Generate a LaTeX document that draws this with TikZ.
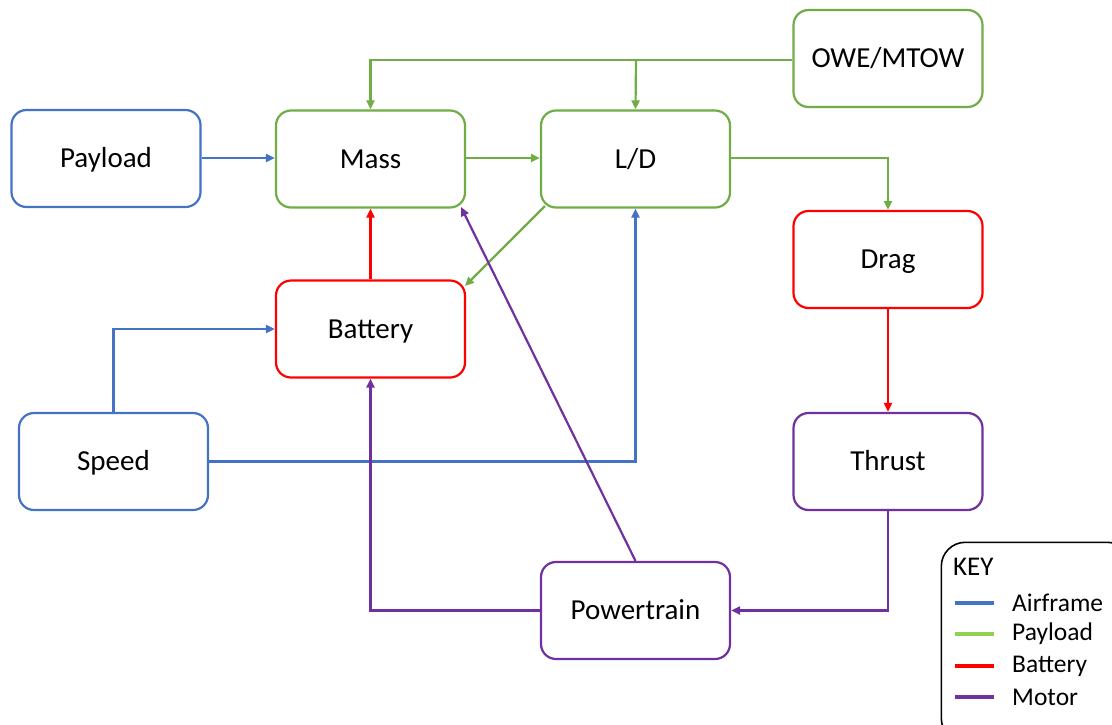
\documentclass[tikz,border=0pt]{standalone}
\usepackage{fontspec}
\setmainfont{Carlito}
\usetikzlibrary{arrows.meta}
\definecolor{cblue}{HTML}{4472C4}
\definecolor{cgreen}{HTML}{70AD47}
\definecolor{lgreen}{HTML}{92D050}
\definecolor{cred}{HTML}{FF0000}
\definecolor{cpurple}{HTML}{7030A0}
\tikzset{
  blk/.style={draw, line width=2.2pt, rounded corners=15pt, minimum width=189pt, minimum height=97pt, inner sep=0pt, font=\fontsize{29}{34}\selectfont, text height=18.6pt, text depth=0pt, fill=white},
  con/.style={line width=2.2pt, -{Triangle[length=9pt,width=8pt]}},
  keyline/.style={line width=4pt},
  keytxt/.style={anchor=west, font=\fontsize{25.5}{30}\selectfont, inner sep=0pt}
}
\begin{document}
\begin{tikzpicture}[x=1pt,y=-1pt]
\useasboundingbox (0,0) rectangle (1112,724);
% nodes
\node[blk, draw=cgreen] (owe) at (888,58.5) {OWE/MTOW};
\node[blk, draw=cblue] (pay) at (106,158.5) {Payload};
\node[blk, draw=cgreen] (mass) at (370.5,159) {Mass};
\node[blk, draw=cgreen] (ld) at (635.5,159) {L/D};
\node[blk, draw=cred] (drag) at (888,259.5) {Drag};
\node[blk, draw=cred] (bat) at (370.5,329) {Battery};
\node[blk, draw=cblue] (speed) at (113.5,461.5) {Speed};
\node[blk, draw=cpurple] (thrust) at (888,461.5) {Thrust};
\node[blk, draw=cpurple] (pt) at (635.5,610.5) {Powertrain};
% connectors
\coordinate (j1) at (636,60);
\draw[con, cgreen] (owe.west |- 0,60) -| (mass.north);
\draw[con, cgreen] (j1) -- (ld.north);
\draw[con, cblue] (pay.east |- 0,158) -- (mass.west |- 0,158);
\draw[con, cgreen] (mass.east |- 0,158) -- (ld.west |- 0,158);
\draw[con, cgreen] (ld.east |- 0,158) -| (drag.north);
\draw[con, cgreen] (545,206) -- (465,286);
\draw[con, cred] (bat.north) -- (mass.south);
\draw[con, cblue] (speed.north) |- (bat.west);
\draw[con, cblue] (speed.east) -| (ld.south);
\draw[con, cred] (drag.south) -- (thrust.north);
\draw[con, cpurple] (thrust.south) |- (pt.east);
\draw[con, cpurple] (pt.west) -| (bat.south);
\draw[con, cpurple] (pt.north) -- (461,207);
% key
\node[draw, line width=1.6pt, rounded corners=24pt, minimum width=190pt, minimum height=200pt, anchor=north west, inner sep=0pt] (key) at (940.5,541.5) {};
\node[anchor=base west, font=\fontsize{27}{32}\selectfont, inner sep=0pt] (keyt) at (953,575) {KEY};
\draw[keyline, cblue] (955,603) -- (994,603);
\draw[keyline, lgreen] (955,634) -- (994,634);
\draw[keyline, cred] (955,666) -- (994,666);
\draw[keyline, cpurple] (955,697) -- (994,697);
\node[keytxt] (k1) at (1012,603) {Airframe};
\node[keytxt] (k2) at (1012,634) {Payload};
\node[keytxt] (k3) at (1012,666) {Battery};
\node[keytxt] (k4) at (1012,697) {Motor};
\end{tikzpicture}
\end{document}
